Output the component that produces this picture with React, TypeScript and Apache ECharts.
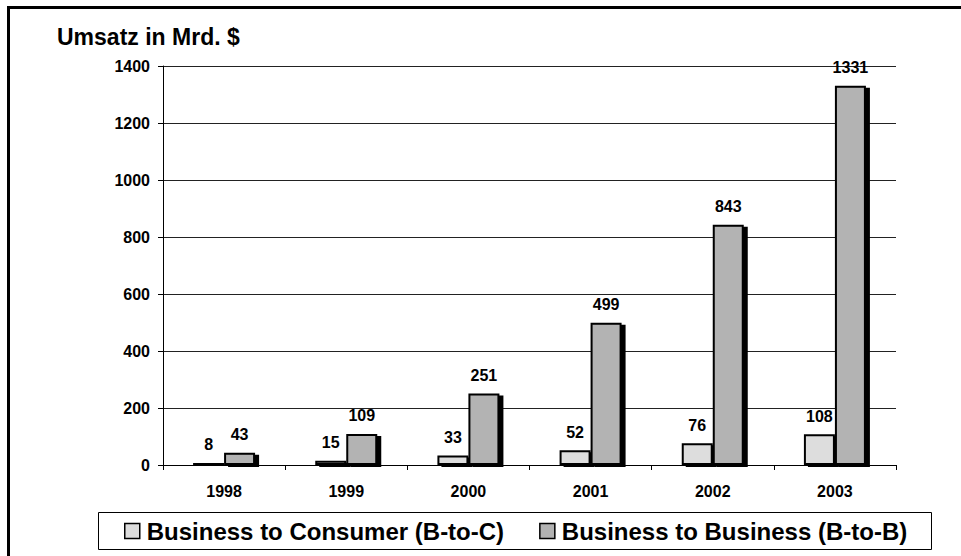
import React, { useEffect, useRef } from "react";
import * as echarts from "echarts";

const categories = ["1998", "1999", "2000", "2001", "2002", "2003"];
const b2c = [8, 15, 33, 52, 76, 108];
const b2b = [43, 109, 251, 499, 843, 1331];
const seriesNames = ["Business to Consumer (B-to-C)", "Business to Business (B-to-B)"];
const yTicks = { min: 0, max: 1400, step: 200 };
const FONT = "Arial, 'Liberation Sans', sans-serif";

export default function App() {
  const ref = useRef<HTMLDivElement>(null);
  useEffect(() => {
    document.body.style.margin = "0";
    const chart = echarts.init(ref.current!, null, { renderer: "svg" });
    const label = {
      show: true,
      position: "top",
      distance: 10,
      color: "#000",
      fontWeight: "bold",
      fontSize: 16,
      fontFamily: FONT,
    };
    const barStyle = (color: string) => ({
      color,
      borderColor: "#000",
      borderWidth: 2,
      shadowColor: "#000",
      shadowOffsetX: 4,
      shadowOffsetY: 2,
      shadowBlur: 0,
    });
    chart.setOption({
      animation: false,
      backgroundColor: "#fff",
      textStyle: { fontFamily: FONT },
      grid: { left: 163, right: 65, top: 66, bottom: 91, containLabel: false },
      graphic: [
        {
          type: "rect",
          shape: { x: 8.5, y: 7.5, width: 1000, height: 600 },
          style: { fill: "none", stroke: "#000", lineWidth: 3 },
          silent: true,
        },
        {
          type: "rect",
          shape: { x: 98.5, y: 512.5, width: 833, height: 37 },
          style: { fill: "#fff", stroke: "#000", lineWidth: 1 },
          silent: true,
          z: -1,
        },
        {
          type: "text",
          left: 57,
          top: 25,
          style: { text: "Umsatz in Mrd. $", fontSize: 23, fontWeight: "bold", fontFamily: FONT, fill: "#000" },
        },
      ],
      legend: {
        data: seriesNames,
        left: 124,
        top: 519,
        padding: 0,
        itemWidth: 15,
        itemHeight: 15,
        itemGap: 35,
        icon: "rect",
        textStyle: { fontSize: 24, fontWeight: "bold", fontFamily: FONT, color: "#000", padding: [0, 0, 0, 2] },
        itemStyle: { borderColor: "#000", borderWidth: 1.5 },
      },
      xAxis: {
        type: "category",
        data: categories,
        axisLine: { lineStyle: { color: "#000", width: 1 } },
        axisTick: { show: true, alignWithLabel: false, length: 5, lineStyle: { color: "#000" } },
        axisLabel: { color: "#000", fontWeight: "bold", fontSize: 16, fontFamily: FONT, margin: 18 },
      },
      yAxis: {
        type: "value",
        min: yTicks.min,
        max: yTicks.max,
        interval: yTicks.step,
        axisLine: { show: true, lineStyle: { color: "#000", width: 1 } },
        axisTick: { show: true, length: 5, lineStyle: { color: "#000" } },
        axisLabel: {
          color: "#000",
          fontWeight: "bold",
          fontSize: 16,
          fontFamily: FONT,
          margin: 13,
          formatter: (v: number) => String(v),
        },
        splitLine: { show: true, lineStyle: { color: "#222", width: 1 } },
      },
      series: [
        {
          name: seriesNames[0],
          type: "bar",
          data: b2c,
          barWidth: 31,
          barGap: "0%",
          itemStyle: barStyle("#DDDDDD"),
          label,
        },
        {
          name: seriesNames[1],
          type: "bar",
          data: b2b,
          barWidth: 31,
          barGap: "0%",
          itemStyle: barStyle("#B3B3B3"),
          label,
        },
      ],
    });
    return () => chart.dispose();
  }, []);
  return <div ref={ref} style={{ width: 961, height: 556 }} />;
}
